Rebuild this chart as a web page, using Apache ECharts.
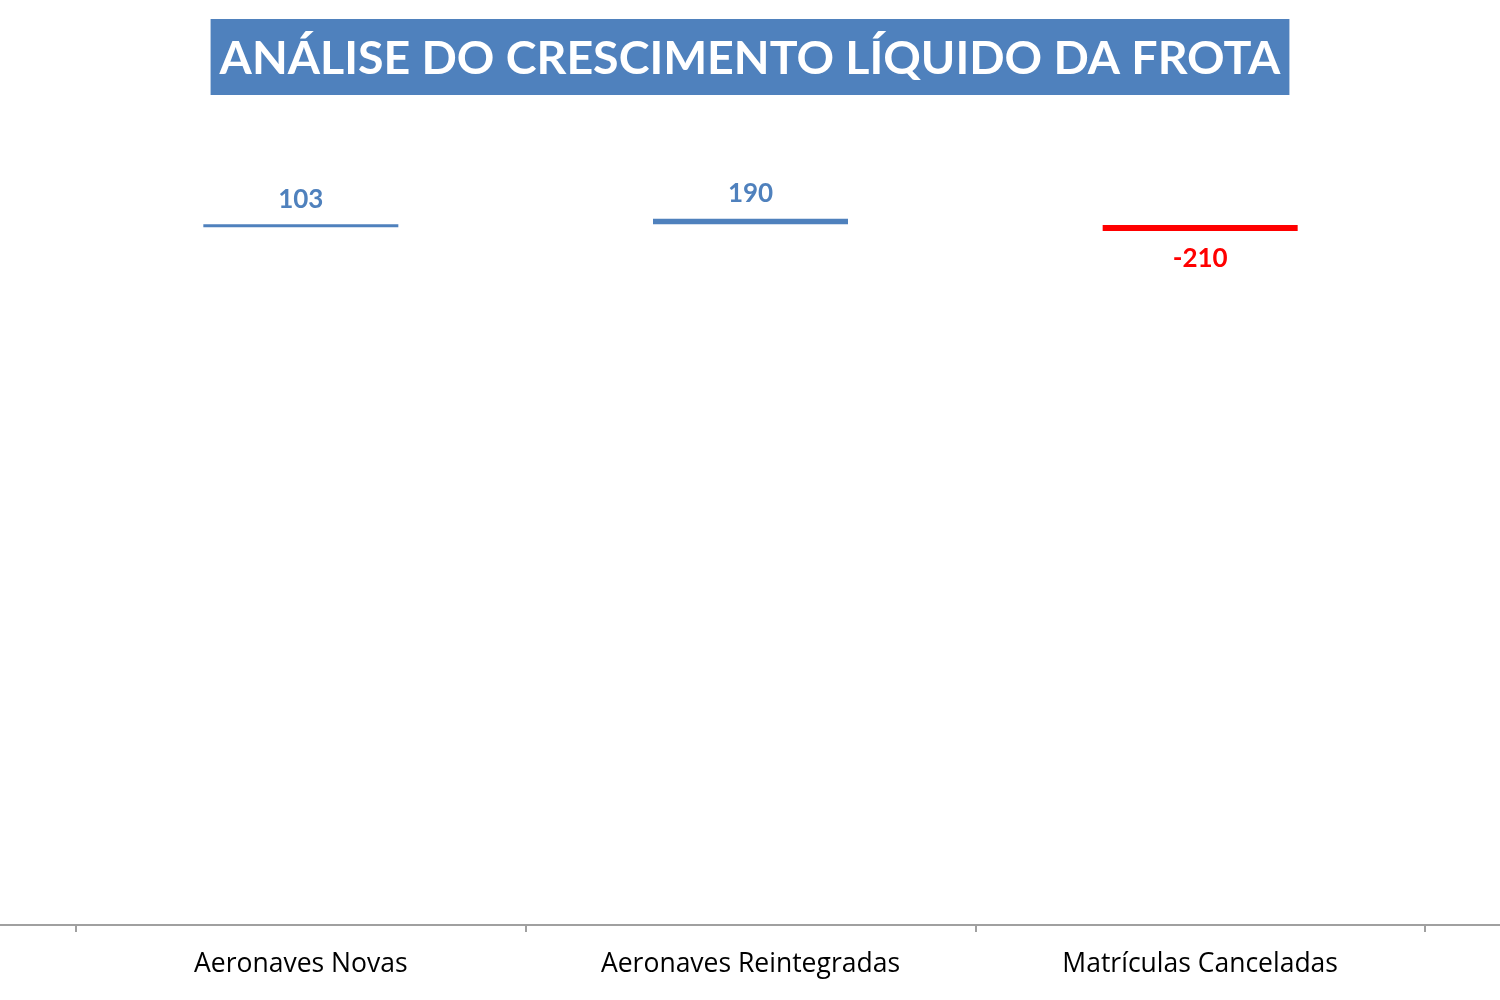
<!DOCTYPE html>
<html>
<head>
<meta charset="utf-8">
<script src="https://cdn.jsdelivr.net/npm/echarts@6/dist/echarts.min.js"></script>
<style>
	html, body { margin: 0; padding: 0; background: #fff; }
	#chart { width: 1500px; height: 1000px; }
</style>
</head>
<body>
<div id="chart"></div>
<script>
// categories and values
var categories = ['Aeronaves Novas', 'Aeronaves Reintegradas', 'Matrículas Canceladas'];
var values = [103, 190, -210];
// invisible base of each floating bar (lower end), estimated from position
var bases = [23970, 24073, 23842];

var blue = '#4F81BD', red = '#FF0000';

var chart = echarts.init(document.getElementById('chart'));

var baseData = [], barData = [];
for(var i = 0; i < values.length; i++){
	var neg = values[i] < 0;
	baseData.push(bases[i]);
	barData.push({
		value: Math.abs(values[i]),
		itemStyle: { color: neg ? red : blue },
		label: {
			position: neg ? 'bottom' : 'top',
			distance: neg ? 15 : 12,
			color: neg ? red : blue
		}
	});
}

var option = {
	backgroundColor: '#fff',
	animation: false,
	title: {
		text: 'ANÁLISE DO CRESCIMENTO LÍQUIDO DA FROTA',
		left: 'center',
		top: 19,
		backgroundColor: blue,
		padding: [12, 9, 8, 9],
		textStyle: {
			color: '#fff',
			fontFamily: 'Lato',
			fontWeight: 'bold',
			fontSize: 46.5,
			lineHeight: 56
		}
	},
	grid: { left: 76, right: 75, top: 110, bottom: 75 },
	xAxis: {
		type: 'category',
		data: categories,
		axisLine: { lineStyle: { color: '#A0A0A0', width: 2 } },
		axisTick: { show: true, length: 7, lineStyle: { color: '#A0A0A0', width: 2 } },
		axisLabel: { color: '#000', fontFamily: 'Open Sans', fontSize: 26.5, margin: 26 }
	},
	yAxis: {
		type: 'value',
		min: 0,
		max: 28000,
		show: false,
		splitLine: { show: false }
	},
	graphic: [{
		// the axis line runs across the whole picture
		type: 'line',
		shape: { x1: 0, y1: 925, x2: 1500, y2: 925 },
		style: { stroke: '#A0A0A0', lineWidth: 2 },
		z: 0
	}],
	series: [{
		type: 'bar',
		stack: 'wf',
		data: baseData,
		barWidth: 195,
		itemStyle: { color: 'transparent' },
		silent: true
	}, {
		type: 'bar',
		stack: 'wf',
		data: barData,
		barWidth: 195,
		label: {
			show: true,
			fontFamily: 'Lato',
			fontWeight: 'bold',
			fontSize: 26,
			formatter: function(p){
				return values[p.dataIndex];
			}
		}
	}]
};

chart.setOption(option);
</script>
</body>
</html>
